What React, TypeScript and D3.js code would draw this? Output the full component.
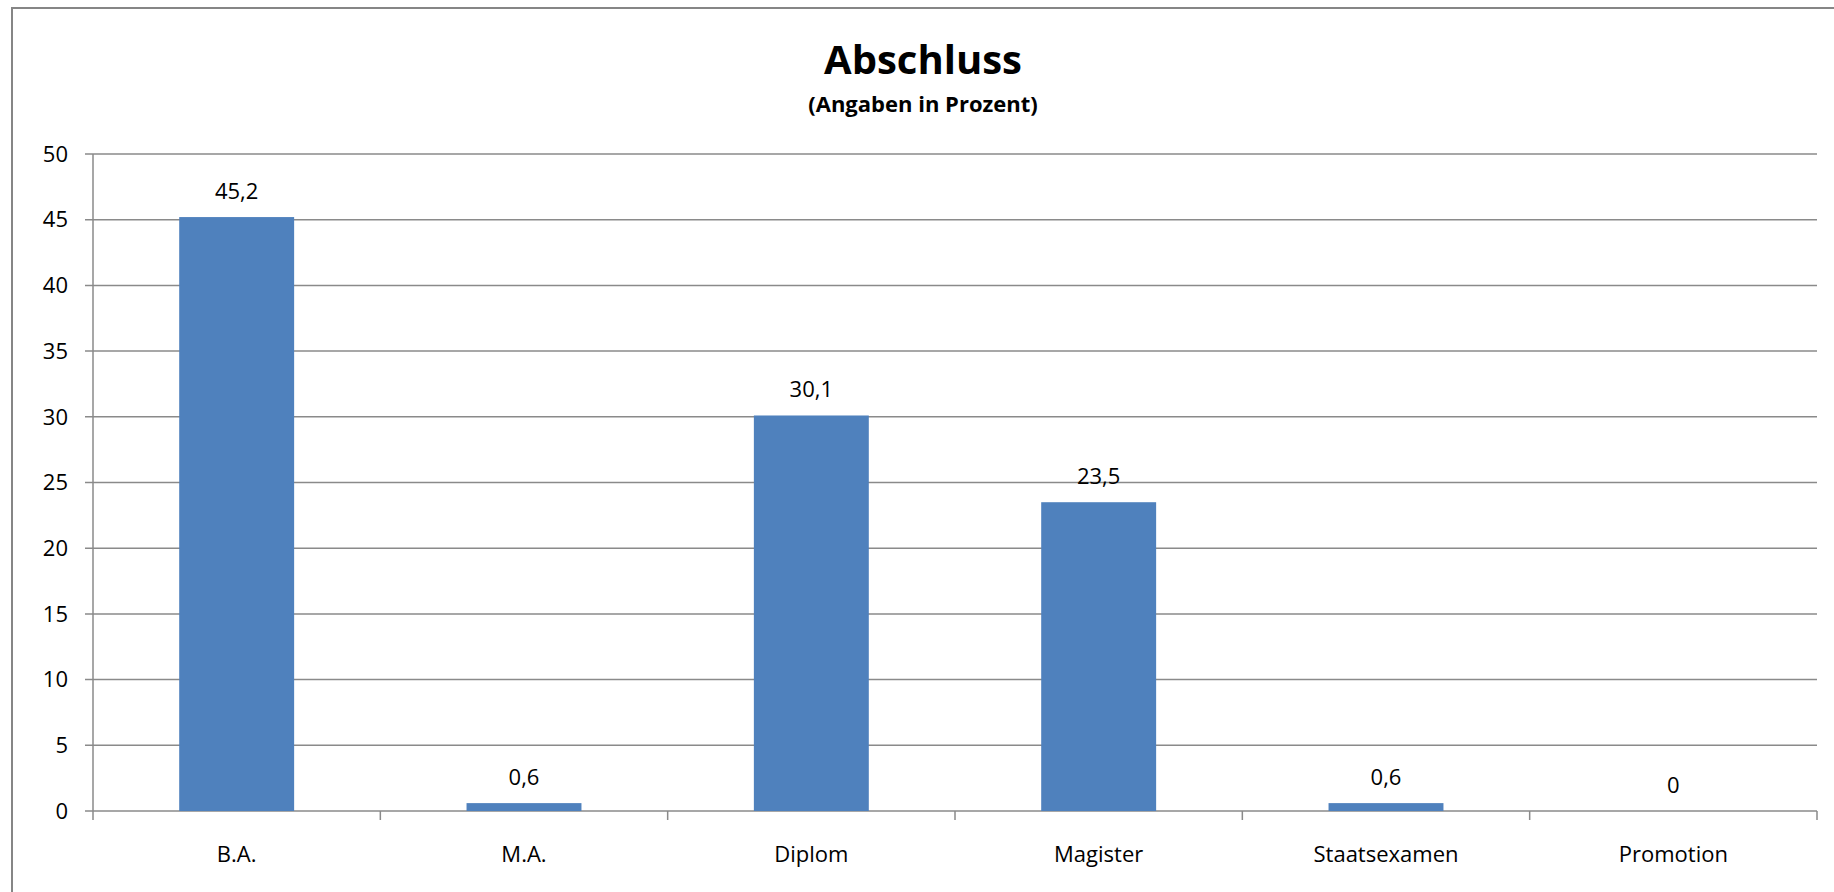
import { useMemo } from "react";
import * as d3 from "d3";

const categories = ["B.A.", "M.A.", "Diplom", "Magister", "Staatsexamen", "Promotion"];
const values = [45.2, 0.6, 30.1, 23.5, 0.6, 0];
const yTicks = [0, 5, 10, 15, 20, 25, 30, 35, 40, 45, 50];

const WIDTH = 1834;
const HEIGHT = 892;
const FONT = "'Open Sans', 'Noto Sans', sans-serif";
const GRID = "#8a8a8a";

const fmt = (v: number) => String(v).replace(".", ",");

export default function App() {
  const margin = { left: 93, right: 1817, top: 154, bottom: 811 };

  const xScale = useMemo(
    () =>
      d3
        .scaleBand()
        .domain(categories)
        .range([margin.left, margin.right])
        .paddingInner(0.6)
        .paddingOuter(0.3),
    []
  );

  const yScale = useMemo(
    () => d3.scaleLinear().domain([0, 50]).range([margin.bottom, margin.top]),
    []
  );

  // category boundaries for the tick marks on the x axis
  const step = (margin.right - margin.left) / categories.length;
  const xTicks = d3.range(categories.length + 1).map((i) => margin.left + i * step);

  return (
    <svg
      width={WIDTH}
      height={HEIGHT}
      style={{ position: "absolute", left: 0, top: 0, background: "#fff" }}
      fontFamily={FONT}
    >
      <rect x={12} y={8} width={WIDTH + 20} height={HEIGHT + 20} fill="#fff" stroke="#868686" strokeWidth={2} />

      <text x={923} y={74} textAnchor="middle" fontSize={40} fontWeight="bold" fill="#000">
        Abschluss
      </text>
      <text x={923} y={112} textAnchor="middle" fontSize={22} fontWeight="bold" fill="#000">
        (Angaben in Prozent)
      </text>

      {yTicks.map((t) => (
        <g key={t}>
          <line x1={85} x2={margin.right} y1={yScale(t)} y2={yScale(t)} stroke={GRID} strokeWidth={1.5} />
          <text x={68} y={yScale(t)} dy="0.35em" textAnchor="end" fontSize={22} fill="#000">
            {t}
          </text>
        </g>
      ))}

      <line x1={margin.left} x2={margin.left} y1={margin.top} y2={margin.bottom} stroke={GRID} strokeWidth={1.5} />
      {xTicks.map((x, i) => (
        <line key={i} x1={x} x2={x} y1={margin.bottom} y2={margin.bottom + 9} stroke={GRID} strokeWidth={1.5} />
      ))}

      {categories.map((c, i) => {
        const x = xScale(c) ?? 0;
        const y = yScale(values[i]);
        return (
          <g key={c}>
            <rect x={x} y={y} width={xScale.bandwidth()} height={margin.bottom - y} fill="#4f81bd" />
            <text x={x + xScale.bandwidth() / 2} y={y - 18} textAnchor="middle" fontSize={22} fill="#000">
              {fmt(values[i])}
            </text>
            <text x={x + xScale.bandwidth() / 2} y={862} textAnchor="middle" fontSize={22} fill="#000">
              {c}
            </text>
          </g>
        );
      })}
    </svg>
  );
}
